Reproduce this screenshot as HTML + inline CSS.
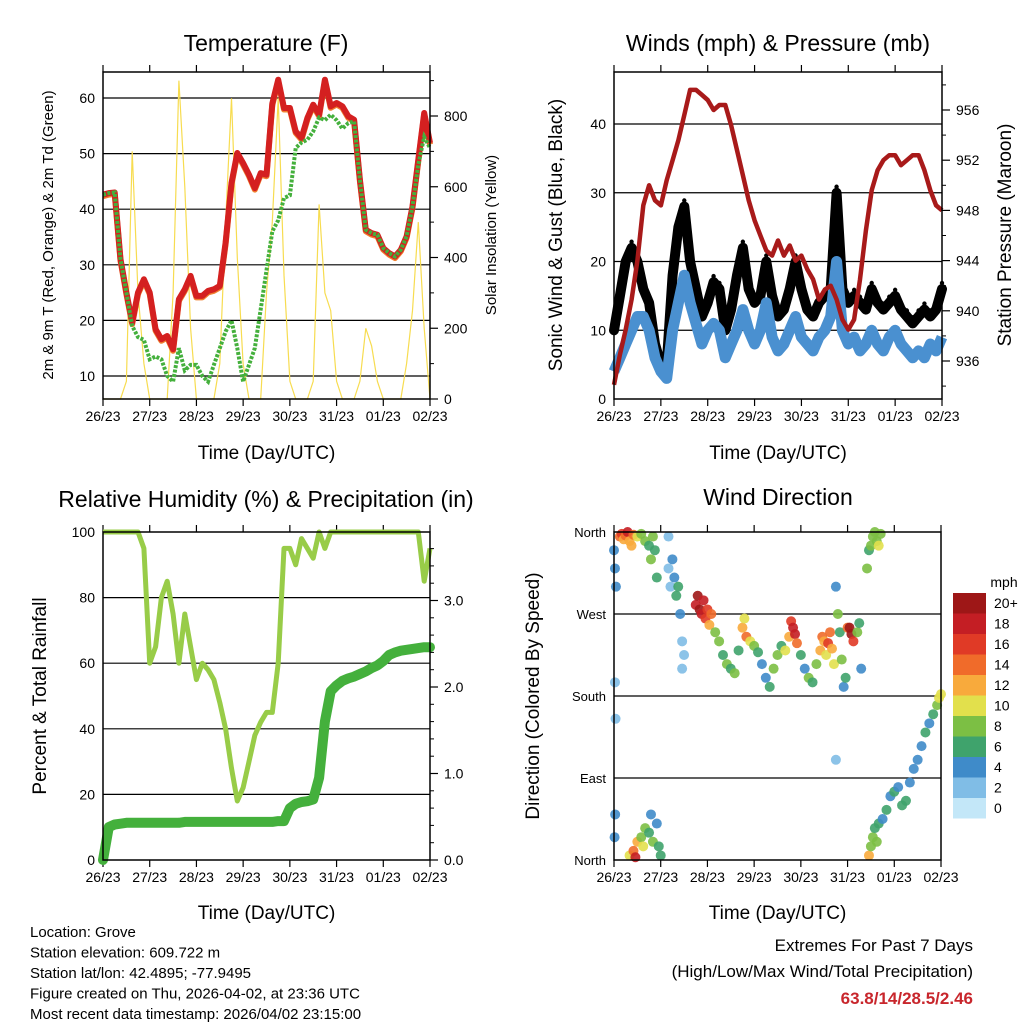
<!DOCTYPE html>
<html><head><meta charset="utf-8"><style>
body{margin:0;background:#fff;width:1024px;height:1024px;overflow:hidden;font-family:"Liberation Sans",sans-serif}
svg text{font-family:"Liberation Sans",sans-serif}
</style></head><body>
<svg id="c" width="1024" height="1024" xmlns="http://www.w3.org/2000/svg"></svg>
<script>
// ---- Data (3-hour steps, hours 0..168) ----
const hours3 = [0,3,6,9,12,15,18,21,24,27,30,33,36,39,42,45,48,51,54,57,60,63,66,69,72,75,78,81,84,87,90,93,96,99,102,105,108,111,114,117,120,123,126,129,132,135,138,141,144,147,150,153,156,159,162,165,168];
const dayLabels = ["26/23","27/23","28/23","29/23","30/23","31/23","01/23","02/23"];
const tempF = [42.6,42.9,43,31,25,19.6,25,27.4,25,18.4,16.6,17.2,14.8,23.8,25.6,28,24.4,24.4,25.3,25.6,26.2,34,44.7,50.1,48.3,46.2,43.8,46.5,46.2,59,63.3,58.2,58.2,54,52.8,56.4,58.8,57,63.3,58.5,59.1,58.5,56.7,56.1,45.3,36.3,35.7,35.4,33,32.1,31.5,32.7,35.1,40.5,48.9,57.3,51.9];
const dewF = [42.6,42.9,43,31,25,19,17,16.5,13,13.5,13,10,9,15,11,12,12,10,9,12,15,18,20,15,9,12,15,22,29,36,38,42,42.5,51,52,52.5,54,56.5,56,57,56,54.5,55.5,55.8,45.3,36.3,35.7,35.4,33,32.1,31.5,32.7,35.1,40.5,48,53,51];
const solar = [0,0,0,0,50,700,300,100,0,0,0,0,300,900,600,200,0,0,0,0,100,500,850,400,100,0,0,0,300,500,850,350,50,0,0,0,50,550,300,250,50,0,0,0,50,200,150,50,0,0,0,0,100,250,500,200,0];
const pressure = [934.1,936.5,938.5,940.9,944,948.4,950,948.8,948.4,950.4,952,953.6,955.6,957.6,957.6,957.2,956.8,956,956.4,956.4,954.8,952.8,950.8,948.8,947.2,946,944.8,944.4,945.6,944.4,945.2,944,944.4,943.3,942.5,940.9,941.7,942,940.9,939.3,938.5,939.3,942.5,946.4,949.6,951.2,952,952.4,952.4,951.6,952,952.4,952.4,951.2,949.6,948.4,948];
const windMph = [4,6,8,10,12,12,10,6,4,3,10,14,18,14,11,8,10,11,10,6,8,10,13,10,8,10,14,9,7,8,10,12,9,8,7,9,10,12,20,10,8,9,7,8,10,8,7,9,10,8,7,6,7,6,8,7,9];
const gustMph = [10,15,20,22,20,16,14,8,5,5,18,25,28,20,16,12,14,17,16,10,13,18,22,16,14,15,20,15,12,13,16,20,16,13,12,14,15,16,30,16,14,15,14,13,16,14,13,14,15,13,12,11,12,13,12,13,16];
const rhPct = [100,100,100,100,100,100,100,95,60,65,80,85,75,60,75,65,55,60,58,55,48,40,28,18,22,30,38,42,45,45,60,95,95,90,98,95,92,100,95,100,100,100,100,100,100,100,100,100,100,100,100,100,100,100,100,85,95];
const precipIn = [0,0.38,0.41,0.42,0.43,0.43,0.43,0.43,0.43,0.43,0.43,0.43,0.43,0.43,0.44,0.44,0.44,0.44,0.44,0.44,0.44,0.44,0.44,0.44,0.44,0.44,0.44,0.44,0.44,0.44,0.45,0.45,0.6,0.65,0.67,0.68,0.7,0.95,1.6,1.95,2.02,2.07,2.1,2.12,2.15,2.18,2.22,2.25,2.3,2.37,2.4,2.42,2.43,2.44,2.45,2.46,2.46];
// wind direction observations
const obsHour = [0,0.5,1,0.3,0.6,0.5,0.8,3,4,5,6,7,8,9,10,12,14,16,18,19,20,21,22,8,10,11,12,14,15,16,18,19,20,22,23,24,28,28,29,30,31,32,33,34,35,36,35,42,43,44,45,46,47,48,49,50,52,54,56,58,60,62,64,66,67,68,70,72,74,76,78,80,82,84,86,88,90,91,92,93,94,96,98,100,102,104,106,107,108,109,110,111,112,113,114,115,116,117,118,114,119,120,121,122,123,125,126,127,130,131,132,133,134,135,136,137,131,132,133,134,135,136,138,140,142,144,146,148,150,152,154,156,158,160,162,164,166,167,168];
const obsDir = [340,320,300,25,50,195,155,355,358,352,356,360,350,345,357,355,358,350,345,330,355,340,310,5,10,3,20,25,15,35,30,50,20,40,15,5,355,320,300,330,310,290,300,270,240,225,210,280,290,275,270,285,265,275,258,270,250,240,225,215,210,205,230,255,265,245,240,235,228,215,200,190,210,225,235,230,245,262,255,248,238,225,210,200,195,215,230,245,240,225,238,250,232,215,300,270,250,220,190,110,200,255,255,248,240,250,260,210,320,340,345,355,360,350,345,358,5,15,25,35,20,40,45,55,70,75,80,60,65,85,100,110,125,140,150,160,170,178,182];
const obsSpeed = [4,4,4,4,3,2,2,14,16,12,14,17,12,11,13,10,8,7,6,7,8,6,6,10,13,17,12,8,9,7,6,4,7,4,5,6,2,2,2,4,4,6,5,3,2,2,2,18,19,20,18,17,16,15,12,14,8,8,6,7,6,8,6,12,10,14,10,8,6,4,4,6,8,8,6,10,12,16,18,18,14,6,4,8,6,8,12,14,12,10,16,14,12,10,4,8,6,8,4,2,6,14,19,20,16,8,6,4,8,6,8,8,7,8,10,8,12,8,8,6,7,6,4,6,4,5,4,6,5,4,4,4,4,6,4,5,8,9,10];
const speedLabels = ["20+","18","16","14","12","10","8","6","4","2","0"];
const speedColors = ["#9e1717","#c41e24","#e03a26","#f06b2a","#f8aa3c","#e2e04c","#7cbf44","#3fa36c","#3f8bc9","#80bde6","#c3e7f8"];

const NS="http://www.w3.org/2000/svg";
const svg=document.getElementById('c');
function el(tag,attrs,parent,text){const e=document.createElementNS(NS,tag);for(const k in attrs)e.setAttribute(k,attrs[k]);if(text!==undefined)e.textContent=text;(parent||svg).appendChild(e);return e;}
function linear(d0,d1,r0,r1){return v=>r0+(v-d0)/(d1-d0)*(r1-r0);}
function colorFor(s){let i=Math.round(s/2);if(i>10)i=10;if(i<0)i=0;return speedColors[10-i];}

function panel(name){
  const g=el('g',{});
  
  
  return g;
}
function frame(g,x0,x1,y0,y1){el('rect',{x:x0,y:y0,width:x1-x0,height:y1-y0,fill:'none',stroke:'#000','stroke-width':1.5},g);}
function grid(g,x0,x1,ys){ys.forEach(y=>el('line',{x1:x0,x2:x1,y1:y,y2:y,stroke:'#000','stroke-width':1.2},g));}
function xAxis(g,x0,x1,y0,y1,ty){
  const xs=linear(0,168,x0,x1);
  const ax=el('g',{},g);
  
  
  dayLabels.forEach((l,i)=>{const x=xs(i*24);
    el('line',{x1:x,x2:x,y1:y1,y2:y1+7,stroke:'#000','stroke-width':1.2},ax);
    el('line',{x1:x,x2:x,y1:y0,y2:y0-7,stroke:'#000','stroke-width':1.2},ax);
    const t=el('text',{x:x,y:y1+22,'font-size':14,'text-anchor':'middle'},ax,l);
    
    
  });
  const tt=el('text',{x:(x0+x1)/2,y:ty,'font-size':19,'text-anchor':'middle'},ax,'Time (Day/UTC)');
  
  
  return xs;
}
function leftTicks(g,x0,vals,ys,fmt){vals.forEach(v=>{const t=el('text',{x:x0-8,y:ys(v)+5,'font-size':14,'text-anchor':'end'},g,fmt?fmt(v):v);});}
function rightTicks(g,x1,vals,ys,fmt,minor){
  if(minor)minor.forEach(v=>el('line',{x1:x1,x2:x1+4,y1:ys(v),y2:ys(v),stroke:'#000','stroke-width':1},g));
  vals.forEach(v=>{const y=ys(v);el('line',{x1:x1,x2:x1+8,y1:y,y2:y,stroke:'#000','stroke-width':1.2},g);
  const t=el('text',{x:x1+14,y:y+5,'font-size':14},g,fmt?fmt(v):v);});}
function vtitle(g,x,y,txt,size,name){const t=el('text',{x:x,y:y,'font-size':size,'text-anchor':'middle',transform:`rotate(-90 ${x} ${y})`},g,txt);}
function title(g,x,y,txt,name){const t=el('text',{x:x,y:y,'font-size':23,'text-anchor':'middle'},g,txt);}
function pts(xs,ys,xa,ya){return xa.map((h,i)=>xs(h).toFixed(1)+','+ys(ya[i]).toFixed(1)).join(' ');}

// ---- Panel 1: Temperature ----
{const X0=103,X1=430,Y0=72,Y1=399;
const g=panel('temperature-panel');
title(g,266,51,'Temperature (F)','temperature-title');
const ys=linear(60,10,98,376);
const ysol=linear(0,800,399,116);
grid(g,X0,X1,[10,20,30,40,50,60].map(ys));
const xs=xAxis(g,X0,X1,Y0,Y1,459);
const sl=el('polyline',{points:pts(xs,ysol,hours3,solar),fill:'none',stroke:'#f7dc50','stroke-width':1.2},g);

const to=el('polyline',{points:pts(xs,v=>ys(v)+1.5,hours3,tempF),fill:'none',stroke:'#f08030','stroke-width':6,'stroke-linejoin':'round'},g);

const tr=el('polyline',{points:pts(xs,ys,hours3,tempF),fill:'none',stroke:'#d42020','stroke-width':6,'stroke-linejoin':'round'},g);

const td=el('polyline',{points:pts(xs,ys,hours3,dewF),fill:'none',stroke:'#44b03c','stroke-width':4,'stroke-dasharray':'3 1.5'},g);

frame(g,X0,X1,Y0,Y1);
leftTicks(g,X0,[10,20,30,40,50,60],ys);
rightTicks(g,X1,[0,200,400,600,800],ysol,null,[100,300,500,700,900]);
vtitle(g,53,235,'2m & 9m T (Red, Orange) & 2m Td (Green)',15,'temperature-y-title');
vtitle(g,496,235,'Solar Insolation (Yellow)',15,'solar-y-title');}

// ---- Panel 2: Winds & Pressure ----
{const X0=614,X1=942,Y0=72,Y1=399;
const g=panel('winds-panel');
title(g,778,51,'Winds (mph) & Pressure (mb)','winds-title');
const ys=linear(0,40,399,124);
const yp=linear(936,956,361,110);
grid(g,X0,X1,[10,20,30,40].map(ys));
const xs=xAxis(g,X0,X1,Y0,Y1,459);
const gl=el('polyline',{points:pts(xs,ys,hours3,gustMph),fill:'none',stroke:'#000','stroke-width':10,'stroke-linejoin':'round','stroke-linecap':'round'},g);

hours3.forEach((h,i)=>{const d=el('circle',{cx:xs(h),cy:ys(gustMph[i])-6,r:2.2,fill:'#000'},g);});
const wl=el('polyline',{points:pts(xs,ys,hours3,windMph),fill:'none',stroke:'#4a90d0','stroke-width':11,'stroke-linejoin':'round'},g);

const pl=el('polyline',{points:pts(xs,yp,hours3,pressure),fill:'none',stroke:'#a81a1a','stroke-width':4.5,'stroke-linejoin':'round'},g);

frame(g,X0,X1,Y0,Y1);
leftTicks(g,X0,[0,10,20,30,40],ys);
rightTicks(g,X1,[936,940,944,948,952,956],yp,null,[934,938,942,946,950,954,958]);
vtitle(g,562,235,'Sonic Wind & Gust (Blue, Black)',19,'wind-y-title');
vtitle(g,1011,235,'Station Pressure (Maroon)',19,'pressure-y-title');}

// ---- Panel 3: RH & Precip ----
{const X0=103,X1=430,Y0=532,Y1=860;
const g=panel('humidity-panel');
title(g,266,507,'Relative Humidity (%) & Precipitation (in)','humidity-title');
const ys=linear(0,100,860,532);
const yr=linear(0,3,860,600.5);
grid(g,X0,X1,[20,40,60,80].map(ys));
const xs=xAxis(g,X0,X1,Y0,Y1,919);
const rl=el('polyline',{points:pts(xs,ys,hours3,rhPct),fill:'none',stroke:'#98cc48','stroke-width':5,'stroke-linejoin':'round'},g);

const pl=el('polyline',{points:pts(xs,yr,hours3,precipIn),fill:'none',stroke:'#44b03c','stroke-width':10,'stroke-linejoin':'round','stroke-linecap':'round'},g);

frame(g,X0,X1,Y0,Y1);
leftTicks(g,X0,[0,20,40,60,80,100],ys);
rightTicks(g,X1,[0,1,2,3],yr,v=>v.toFixed(1),[0.2,0.4,0.6,0.8,1.2,1.4,1.6,1.8,2.2,2.4,2.6,2.8,3.2,3.4,3.6]);
vtitle(g,46,696,'Percent & Total Rainfall',19,'humidity-y-title');}

// ---- Panel 4: Wind Direction ----
{const X0=614,X1=941,Y0=532,Y1=860;
const g=panel('wind-direction-panel');
title(g,778,505,'Wind Direction','wind-direction-title');
const ys=linear(0,360,860,532);
grid(g,X0,X1,[90,180,270].map(ys));
const xs=xAxis(g,X0,X1,Y0,Y1,919);
obsHour.forEach((h,i)=>{const c=el('circle',{cx:xs(h),cy:ys(obsDir[i]),r:5,fill:colorFor(obsSpeed[i]),'fill-opacity':0.9},g);
});
frame(g,X0,X1,Y0,Y1);
const dl=["North","East","South","West","North"];
[0,90,180,270,360].forEach((v,i)=>{const t=el('text',{x:X0-8,y:ys(v)+5,'font-size':13,'text-anchor':'end'},g,dl[i]);});
vtitle(g,539,696,'Direction (Colored By Speed)',19,'direction-y-title');
const lg=el('g',{},g);


el('text',{x:1004,y:587,'font-size':14,'text-anchor':'middle'},lg,'mph');
speedLabels.forEach((l,i)=>{const y=593+i*20.5;
const r=el('rect',{x:953,y:y,width:33,height:20.5,fill:speedColors[i]},lg);

const t=el('text',{x:994,y:y+15,'font-size':14},lg,l);});}

// ---- Footer ----
{const g=panel('station-info');
["Location: Grove","Station elevation: 609.722 m","Station lat/lon: 42.4895; -77.9495","Figure created on Thu, 2026-04-02, at 23:36 UTC","Most recent data timestamp: 2026/04/02 23:15:00"].forEach((s,i)=>{
const t=el('text',{x:30,y:937+i*20.5,'font-size':15},g,s);});
const g2=panel('extremes-info');
let t=el('text',{x:973,y:951,'font-size':17,'text-anchor':'end'},g2,'Extremes For Past 7 Days');
t=el('text',{x:973,y:977,'font-size':17,'text-anchor':'end'},g2,'(High/Low/Max Wind/Total Precipitation)');
t=el('text',{x:973,y:1004,'font-size':17,'text-anchor':'end','font-weight':'bold',fill:'#c8262c'},g2,'63.8/14/28.5/2.46');}
</script>
</body></html>
